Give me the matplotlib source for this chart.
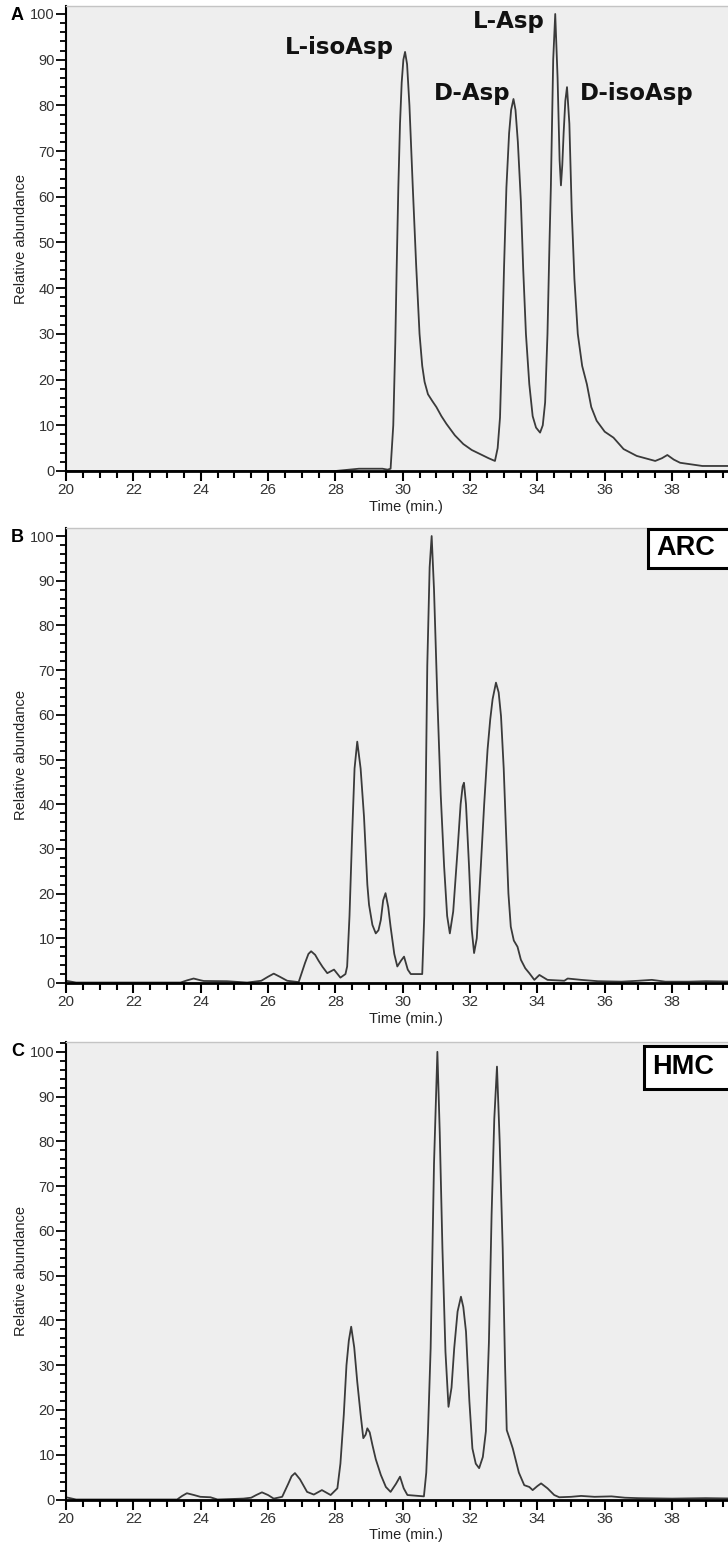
import matplotlib.pyplot as plt
from matplotlib.ticker import MultipleLocator
from matplotlib.patches import Rectangle

# Panel A: standards
time_a = [20, 25, 28.0, 28.7, 29.4, 29.55, 29.64, 29.72, 29.78, 29.82, 29.87, 29.92, 29.97,
          30.02, 30.07, 30.13, 30.2, 30.3, 30.4, 30.5, 30.58, 30.65, 30.75, 30.88, 31.0,
          31.15, 31.3, 31.55, 31.8, 32.05, 32.3, 32.55, 32.74, 32.82, 32.89, 32.95, 33.01,
          33.08, 33.16, 33.22, 33.29, 33.35, 33.42, 33.51, 33.58, 33.66, 33.76, 33.86,
          33.96, 34.08, 34.16, 34.23, 34.3, 34.36, 34.4, 34.47, 34.53, 34.6, 34.66, 34.7,
          34.74, 34.78, 34.83, 34.88, 34.95, 35.02, 35.1, 35.2, 35.33, 35.47, 35.6, 35.76,
          36.0, 36.26, 36.56, 36.95, 37.5, 37.7, 37.86, 38.05, 38.24, 38.9, 40]
abund_a = [0, 0, 0, 0.5, 0.5, 0.3, 0.5, 10, 28, 44, 62, 76, 85,
           90, 91.7, 89, 80, 62, 45, 30, 23, 19.5, 16.8, 15.3, 14,
           12, 10.3, 7.8, 5.9, 4.6, 3.7, 2.8, 2.2, 5, 11.7, 27, 44.6,
           62, 73.9, 79, 81.4, 79, 72, 59, 44, 30, 19, 12,
           9.5, 8.4, 10, 15, 30, 50, 62, 90, 100, 86, 68, 62.5,
           67, 74, 81, 84, 76, 57, 42, 30, 23, 19, 14, 11,
           8.6, 7.3, 4.8, 3.3, 2.2, 2.8, 3.5, 2.5, 1.8, 1.1, 1.1]

# Panel B: ARC
time_b = [20, 20.3, 23.4, 23.6, 23.79, 24.0, 24.09, 24.78, 25.38, 25.8, 26.0, 26.17, 26.35,
          26.57, 26.91, 27.1, 27.2, 27.28, 27.4, 27.5, 27.62, 27.76, 27.96, 28.15, 28.3, 28.35,
          28.42, 28.5, 28.57, 28.65, 28.75, 28.85, 28.95, 29.0, 29.1, 29.2, 29.28, 29.35,
          29.42, 29.49, 29.57, 29.64, 29.75, 29.84, 29.95, 30.04, 30.15, 30.24, 30.58, 30.64,
          30.68, 30.73, 30.8, 30.86, 30.93, 31.03, 31.13, 31.23, 31.32, 31.4, 31.5, 31.63,
          31.72, 31.78, 31.82, 31.88, 31.97, 32.05, 32.12, 32.2, 32.32, 32.42, 32.52, 32.6,
          32.67, 32.77, 32.85, 32.92, 33.0, 33.07, 33.14, 33.21, 33.3, 33.41, 33.51, 33.64,
          33.76, 33.91, 34.06, 34.3, 34.8, 34.9, 35.3, 35.8, 36.5, 37.0, 37.4, 37.8, 38.5,
          39.0, 40]
abund_b = [0.5, 0.1, 0.1, 0.6, 1.0, 0.6, 0.45, 0.4, 0.1, 0.5, 1.4, 2.1, 1.4,
           0.5, 0.2, 4.5, 6.5, 7.1, 6.3, 5, 3.6, 2.2, 3.0, 1.2, 2.0, 3.7,
           15, 33.6, 48, 54, 48, 37.3, 22, 17.5, 13, 11.1, 11.8, 14.1,
           18.5, 20.1, 17, 12.6, 6.5, 3.7, 5, 5.9, 3, 2.0, 2.0, 15,
           40, 71, 93, 100, 88, 63.5, 42, 26.1, 15, 11.1, 16, 29.8,
           40, 44, 44.8, 40, 26.1, 12, 6.7, 10, 26.1, 40, 52.2, 59,
           63.5, 67.2, 65, 59.7, 48, 33.6, 20, 12.6, 9.5, 8.1, 5.2, 3.3,
           2.2, 0.7, 1.8, 0.7, 0.5, 1.0, 0.7, 0.4, 0.3, 0.5, 0.7, 0.3, 0.3,
           0.4, 0.3]

# Panel C: HMC
time_c = [20, 20.3, 23.3, 23.45, 23.59, 23.8, 23.99, 24.29, 24.5, 25.27, 25.5, 25.65, 25.82,
          26.0, 26.17, 26.42, 26.6, 26.7, 26.8, 26.95, 27.16, 27.36, 27.6, 27.86, 28.06, 28.15,
          28.25, 28.33, 28.4, 28.47, 28.56, 28.65, 28.75, 28.83, 28.9, 28.95, 29.02, 29.1,
          29.2, 29.35, 29.5, 29.64, 29.8, 29.92, 30.03, 30.14, 30.63, 30.7, 30.75, 30.83,
          30.93, 31.03, 31.1, 31.18, 31.27, 31.36, 31.45, 31.53, 31.63, 31.73, 31.8, 31.88,
          31.98, 32.07, 32.17, 32.27, 32.38, 32.47, 32.56, 32.64, 32.72, 32.8, 32.88, 32.97,
          33.04, 33.09, 33.18, 33.27, 33.45, 33.61, 33.76, 33.86, 34.0, 34.11, 34.3, 34.5,
          34.65, 35.0, 35.3, 35.7, 36.2, 36.6, 37.0, 38.0, 39.0, 40]
abund_c = [0.5, 0, 0, 0.8, 1.4, 1.0, 0.6, 0.5, 0, 0.2, 0.4, 1.0, 1.6,
           1.0, 0.2, 0.6, 3.5, 5.2, 5.9, 4.5, 1.7, 1.1, 2.1, 1.0, 2.5, 8,
           18.9, 30, 35.5, 38.6, 34, 26.3, 19, 13.7, 14.5, 15.9, 15, 12.2,
           9, 5.5, 2.8, 1.7, 3.5, 5.1, 2.5, 1.0, 0.7, 6, 15, 33.8,
           75, 100, 82, 56.1, 33, 20.7, 25, 33.8, 42, 45.3, 43, 37.5,
           22, 11.4, 8, 7.0, 9.5, 15.2, 35, 63.6, 85, 96.7, 80, 56.1,
           30, 15.5, 13.5, 11.4, 6, 3.2, 2.8, 2.1, 3.0, 3.6, 2.5, 1.0,
           0.5, 0.6, 0.8, 0.6, 0.7, 0.4, 0.3, 0.2, 0.3, 0.2]

peak_names = ['L-isoAsp', 'D-Asp', 'L-Asp', 'D-isoAsp']
peak_label_x = [28.12, 32.07, 33.16, 36.96]
peak_label_y = [92.6, 82.6, 98.3, 82.6]

W, H = 728, 1547
fig = plt.figure(figsize=(W / 100, H / 100), dpi=100)
plt.rcParams['font.family'] = ['Liberation Sans', 'DejaVu Sans']

# (top px, bottom px, ylim top, letter, box label, box left/top/bottom px)
panels = [
    (6, 471, 101.75, 'A', None, None),
    (528, 983, 101.8, 'B', 'ARC', (648, 529, 568)),
    (1042, 1499.5, 102.2, 'C', 'HMC', (644, 1046, 1089)),
]
data = [(time_a, abund_a), (time_b, abund_b), (time_c, abund_c)]
left_px, right_px = 66, 739.4
span = right_px - left_px

for (top, bot, ytop, letter, box, bpos), (t, v) in zip(panels, data):
    h = bot - top
    ax = fig.add_axes([left_px / W, 1 - bot / H, span / W, h / H])
    ax.set_facecolor('#eeeeee')
    ax.plot(t, v, color='#3a3a3a', lw=1.3)
    ax.set_xlim(20, 40)
    ax.set_ylim(0, ytop)

    ax.set_xticks(range(20, 40, 2))
    ax.xaxis.set_minor_locator(MultipleLocator(0.5))
    ax.yaxis.set_major_locator(MultipleLocator(10))
    ax.yaxis.set_minor_locator(MultipleLocator(2))
    ax.tick_params(axis='x', which='major', length=7, width=1.5, pad=2,
                   labelsize=11, labelcolor='#333333')
    ax.tick_params(axis='x', which='minor', length=5, width=1.5)
    ax.tick_params(axis='y', which='major', length=7, width=1.3, pad=1,
                   labelsize=10.5, labelcolor='#333333')
    ax.tick_params(axis='y', which='minor', length=4.5, width=1.3)

    ax.spines['bottom'].set_linewidth(2)
    ax.spines['left'].set_linewidth(1.5)
    ax.spines['top'].set_color('#c4c4c4')
    ax.spines['top'].set_linewidth(1)
    ax.spines['right'].set_visible(False)

    ax.set_xlabel('Time (min.)', fontsize=10.5, color='#222222')
    ax.xaxis.set_label_coords((406 - left_px) / span, -29 / h)
    ax.set_ylabel('Relative abundance', fontsize=10.5, color='#222222')
    ax.yaxis.set_label_coords((28 - left_px) / span, 0.5)

    fig.text(17.5 / W, 1 - (top + 10) / H, letter, fontsize=13, fontweight='bold',
             ha='center', va='center')

    if box:
        bl, bt, bb = bpos
        ax.add_patch(Rectangle(((bl - left_px) / span, (bot - bb) / h),
                               (right_px + 10 - bl) / span, (bb - bt) / h,
                               transform=ax.transAxes, fc='white', ec='black',
                               lw=2.2, clip_on=False, zorder=5))
        ax.text((bl + 8 - left_px) / span, (bot - (bt + bb) / 2) / h, box,
                transform=ax.transAxes, fontsize=19.5, fontweight='bold',
                ha='left', va='center', zorder=6)
    else:
        for name, px, py in zip(peak_names, peak_label_x, peak_label_y):
            ax.text(px, py, name, fontsize=16.5, fontweight='bold',
                    family='DejaVu Sans', ha='center', va='center', color='#111111')

fig.savefig('out.png', dpi=100)
